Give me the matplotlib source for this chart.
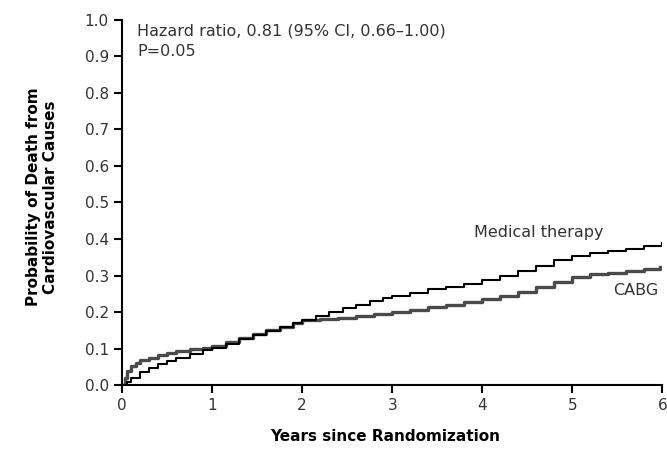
import matplotlib
matplotlib.use('Agg')
import matplotlib.pyplot as plt

plt.rcParams['font.family'] = ['DejaVu Sans']

# Kaplan-Meier style readings (years, cumulative probability)
med_years = [0, 0.05, 0.1, 0.2, 0.3, 0.4, 0.5, 0.6, 0.75, 0.9, 1.0, 1.15, 1.3, 1.45,
             1.6, 1.75, 1.9, 2.0, 2.15, 2.3, 2.45, 2.6, 2.75, 2.9, 3.0, 3.2, 3.4, 3.6,
             3.8, 4.0, 4.2, 4.4, 4.6, 4.8, 5.0, 5.2, 5.4, 5.6, 5.8, 6.0]
med_prob = [0, 0.01, 0.02, 0.035, 0.047, 0.058, 0.067, 0.075, 0.085, 0.095, 0.103, 0.112,
            0.125, 0.137, 0.148, 0.16, 0.17, 0.178, 0.19, 0.2, 0.21, 0.22, 0.23, 0.238,
            0.245, 0.253, 0.262, 0.27, 0.278, 0.287, 0.3, 0.312, 0.327, 0.342, 0.354,
            0.362, 0.368, 0.374, 0.381, 0.39]

cabg_years = [0, 0.03, 0.06, 0.1, 0.15, 0.2, 0.3, 0.4, 0.5, 0.6, 0.75, 0.9, 1.0, 1.15,
              1.3, 1.45, 1.6, 1.75, 1.9, 2.0, 2.2, 2.4, 2.6, 2.8, 3.0, 3.2, 3.4, 3.6,
              3.8, 4.0, 4.2, 4.4, 4.6, 4.8, 5.0, 5.2, 5.4, 5.6, 5.8, 5.97]
cabg_prob = [0, 0.02, 0.038, 0.052, 0.062, 0.068, 0.075, 0.082, 0.088, 0.093, 0.098,
             0.103, 0.108, 0.118, 0.128, 0.14, 0.15, 0.16, 0.17, 0.177, 0.18, 0.185,
             0.19, 0.195, 0.2, 0.206, 0.213, 0.22, 0.228, 0.235, 0.245, 0.255, 0.268,
             0.282, 0.295, 0.303, 0.308, 0.313, 0.318, 0.323]

x_ticks = [0, 1, 2, 3, 4, 5, 6]
y_ticks = [0.0, 0.1, 0.2, 0.3, 0.4, 0.5, 0.6, 0.7, 0.8, 0.9, 1.0]

fig = plt.figure(figsize=(6.67, 4.51), dpi=100)
ax = fig.add_axes([0.183, 0.146, 0.81, 0.81])

ax.step(cabg_years, cabg_prob, where='post', color='#4a4a4a', lw=2.4)
ax.step(med_years, med_prob, where='post', color='black', lw=1.5)

ax.set_xlim(0, 6)
ax.set_ylim(0, 1.0)
ax.set_xticks(x_ticks)
ax.set_yticks(y_ticks)
ax.set_xticklabels([str(t) for t in x_ticks])
ax.set_yticklabels(['%.1f' % t for t in y_ticks])

for s in ['top', 'right']:
    ax.spines[s].set_visible(False)
for s in ['left', 'bottom']:
    ax.spines[s].set_linewidth(1.5)
ax.tick_params(direction='out', length=6, width=1.5, labelsize=11, labelcolor='#333333')

ax.set_xlabel('Years since Randomization', fontsize=11, fontweight='bold')
ax.xaxis.set_label_coords(0.487, -0.12)
ax.set_ylabel('Probability of Death from\nCardiovascular Causes', fontsize=11,
              fontweight='bold')
ax.yaxis.set_label_coords(-0.118, 0.515)

ax.text(0.17, 0.97, 'Hazard ratio, 0.81 (95% CI, 0.66\u20131.00)', fontsize=11.5,
        color='#333333', va='center', ha='left')
ax.text(0.17, 0.912, 'P=0.05', fontsize=11.5, color='#333333', va='center', ha='left')

ax.text(4.63, 0.418, 'Medical therapy', fontsize=11.5, color='#333333', ha='center', va='center')
ax.text(5.7, 0.26, 'CABG', fontsize=11.5, color='#333333', ha='center', va='center')

fig.savefig('out.png', dpi=100)
